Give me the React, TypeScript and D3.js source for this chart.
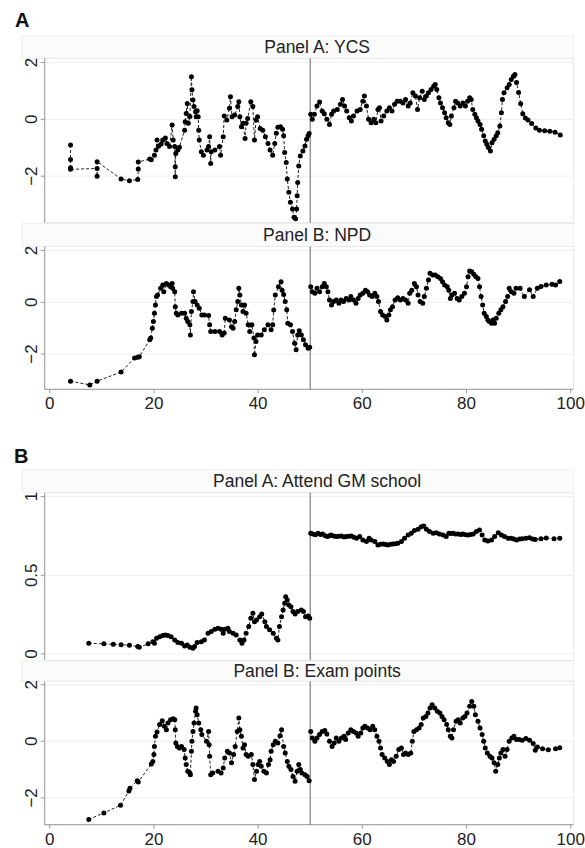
import React from "react"
import * as d3 from "d3"

// x axis (running variable) and cutoff
const xTicks = [0, 20, 40, 60, 80, 100]
const cutoff = 50

// tick values per panel
const ycsTicks = [-2, 0, 2]
const npdTicks = [-2, 0, 2]
const gmTicks = [0, 0.5, 1]
const examTicks = [-2, 0, 2]

// series: [x, y]
const ycs: [number, number][] = [
  [4.0, -0.9], [4.0, -1.41], [4.0, -1.7], [4.0, -1.76], [9.1, -1.73], [9.1, -2.0], [9.1, -1.49],
  [13.7, -2.1], [15.3, -2.16], [16.9, -2.12], [17.0, -1.75], [17.0, -1.5], [19.2, -1.4], [19.5, -1.42],
  [20.1, -1.26], [20.4, -1.08], [20.6, -0.73], [20.9, -0.95], [21.4, -0.87], [21.7, -0.73], [22.2, -0.66],
  [22.5, -0.85], [23.0, -0.96], [23.5, -0.2], [23.7, -0.73], [24.0, -0.96], [24.1, -2.02], [24.1, -1.67],
  [24.2, -1.2], [24.6, -1.08], [24.9, -0.98], [25.9, -0.38], [26.0, -0.08], [26.2, 0.21], [26.4, 0.56],
  [26.6, -0.14], [26.9, 0.1], [27.2, 1.5], [27.3, 1.04], [27.5, 0.68], [27.7, 0.45], [28.0, 0.27],
  [28.1, 0.09], [28.3, 0.3], [28.5, 0.09], [28.6, -0.38], [28.7, -0.73], [29.1, -1.14], [29.5, -1.26],
  [30.2, -1.08], [30.5, -0.96], [30.7, -0.61], [30.9, -1.55], [31.0, -1.14], [31.7, -1.08], [32.6, -0.96],
  [32.8, -1.26], [33.3, -0.61], [33.5, 0.12], [34.0, -0.02], [34.5, 0.39], [34.7, 0.8], [35.0, 0.09],
  [35.5, 0.15], [36.1, 0.45], [36.3, 0.62], [36.5, 0.09], [36.8, -0.26], [37.1, -0.14], [37.5, -0.67],
  [37.7, -0.14], [38.0, 0.03], [38.6, 0.62], [39.0, 0.45], [39.3, -0.73], [39.6, -0.02], [39.9, 0.09],
  [40.4, -0.32], [40.9, -0.38], [41.4, -0.61], [41.9, -0.85], [42.3, -1.08], [42.8, -1.26], [43.2, -0.85],
  [43.5, -0.49], [43.8, -0.28], [44.3, -0.26], [44.7, -0.35], [44.9, -0.58], [45.1, -1.17], [45.4, -1.52],
  [45.6, -2.1], [45.9, -2.57], [46.2, -2.92], [46.6, -3.16], [46.9, -3.45], [47.2, -3.5], [47.4, -3.16],
  [47.5, -2.69], [47.6, -2.22], [47.8, -1.64], [48.1, -1.29], [48.6, -1.11], [49.0, -0.94], [49.3, -0.7],
  [49.6, -0.58], [49.8, -0.5],
  [50.1, 0.18], [50.4, 0.0], [50.8, 0.18], [51.3, 0.47], [51.8, 0.61], [52.3, 0.29], [52.7, 0.2],
  [53.2, 0.0], [53.7, -0.18], [54.1, 0.18], [54.5, 0.29], [55.2, 0.35], [55.8, 0.53], [56.2, 0.7],
  [56.6, 0.47], [57.0, 0.29], [57.5, 0.06], [57.9, -0.06], [58.3, 0.12], [59.0, 0.29], [59.6, 0.35],
  [60.1, 0.64], [60.4, 0.82], [60.8, 0.47], [61.2, 0.0], [61.7, -0.12], [62.2, 0.0], [62.6, -0.12],
  [63.0, 0.35], [63.3, 0.41], [63.6, -0.06], [64.1, 0.12], [64.7, 0.29], [65.2, 0.41], [65.7, 0.29],
  [66.2, 0.53], [66.7, 0.64], [67.3, 0.64], [67.8, 0.58], [68.3, 0.7], [68.8, 0.47], [69.2, 0.58],
  [69.7, 0.94], [70.2, 0.82], [70.6, 0.35], [71.0, 0.76], [71.5, 0.99], [71.9, 0.7], [72.3, 0.82],
  [72.7, 0.94], [73.2, 1.05], [73.7, 1.17], [74.0, 1.23], [74.3, 1.05], [74.7, 0.76], [75.0, 0.58],
  [75.4, 0.41], [75.8, 0.23], [76.1, 0.06], [76.5, -0.12], [76.8, -0.18], [77.1, 0.12], [77.6, 0.41],
  [77.9, 0.64], [78.3, 0.58], [78.8, 0.47], [79.3, 0.58], [79.8, 0.47], [80.2, 0.64], [80.6, 0.76],
  [80.9, 0.7], [81.2, 0.35], [81.6, 0.18], [81.9, 0.06], [82.2, -0.06], [82.6, -0.18], [82.9, -0.35],
  [83.3, -0.58], [83.6, -0.76], [83.9, -0.88], [84.2, -0.99], [84.6, -1.11], [84.9, -0.82], [85.3, -0.7],
  [85.7, -0.58], [86.0, -0.47], [86.4, -0.23], [86.7, 0.23], [86.9, 0.7], [87.2, 0.94], [87.8, 1.11],
  [88.2, 1.23], [88.6, 1.4], [89.0, 1.52], [89.3, 1.58], [89.6, 1.3], [90.0, 0.95], [90.4, 0.55],
  [90.8, 0.2], [91.3, 0.05], [91.8, -0.02], [92.5, -0.15], [93.3, -0.3], [94.0, -0.38], [95.0, -0.4],
  [96.0, -0.42], [97.0, -0.45], [98.0, -0.55],
]

const npd: [number, number][] = [
  [4.0, -3.05], [7.7, -3.19], [9.1, -3.05], [13.7, -2.69], [16.3, -2.15], [16.9, -2.12], [17.2, -2.1],
  [19.2, -1.45], [19.4, -1.38], [19.7, -1.0], [19.9, -0.74], [20.1, -0.42], [20.3, -0.1], [20.5, 0.22],
  [20.7, 0.28], [21.3, 0.54], [21.7, 0.67], [21.9, 0.41], [22.4, 0.73], [22.8, 0.67], [23.2, 0.6],
  [23.5, 0.73], [23.6, 0.54], [24.0, 0.41], [24.1, -0.17], [24.3, -0.42], [24.6, -0.49], [25.3, -0.42],
  [25.9, -0.42], [26.2, -0.62], [26.5, -0.74], [26.9, -0.87], [27.0, -1.26], [27.2, -0.36], [27.5, 0.03],
  [27.6, 0.41], [27.9, 0.03], [28.3, -0.1], [28.7, -0.23], [29.2, -0.49], [29.7, -0.49], [30.5, -0.51],
  [30.7, -0.87], [30.9, -1.13], [31.7, -1.13], [32.6, -1.13], [33.1, -1.26], [33.5, -1.19], [33.7, -0.62],
  [34.5, -0.68], [34.9, -0.94], [35.2, -1.0], [35.5, -0.74], [35.8, -0.29], [36.1, 0.03], [36.3, 0.54],
  [36.5, 0.28], [36.8, -0.1], [37.1, -0.36], [37.4, -0.1], [37.7, -0.42], [38.1, -0.87], [38.4, -1.13],
  [38.8, -0.87], [39.2, -1.38], [39.3, -2.03], [39.6, -1.51], [39.9, -1.26], [40.6, -1.26], [41.2, -1.06],
  [41.9, -0.87], [42.5, -1.06], [42.8, -0.87], [43.0, -0.3], [43.3, 0.28], [43.9, 0.6], [44.4, 0.79],
  [44.6, 0.47], [44.9, 0.3], [45.2, 0.03], [45.5, -0.29], [45.7, -0.81], [46.2, -0.87], [46.6, -1.13],
  [47.0, -1.58], [47.3, -1.83], [47.6, -1.26], [47.9, -1.1], [48.3, -1.26], [48.7, -1.45], [49.1, -1.64],
  [49.6, -1.77], [49.9, -1.74],
  [50.1, 0.6], [50.4, 0.41], [50.9, 0.35], [51.3, 0.54], [51.8, 0.41], [52.3, 0.6], [52.7, 0.73],
  [53.1, 0.6], [53.4, 0.41], [53.7, 0.09], [54.1, -0.1], [54.5, 0.03], [55.0, 0.09], [55.5, -0.04],
  [55.9, 0.09], [56.4, 0.03], [56.9, 0.15], [57.4, 0.09], [57.8, 0.22], [58.3, 0.09], [58.8, -0.04],
  [59.2, 0.15], [59.6, 0.28], [60.1, 0.35], [60.6, 0.47], [61.0, 0.41], [61.4, 0.28], [61.9, 0.22],
  [62.4, 0.35], [62.8, 0.22], [63.1, 0.03], [63.5, -0.36], [63.9, -0.49], [64.4, -0.55], [64.7, -0.68],
  [65.1, -0.49], [65.4, -0.29], [65.8, -0.17], [66.3, 0.09], [66.8, 0.18], [67.3, 0.09], [67.8, 0.15],
  [68.3, 0.09], [68.8, -0.04], [69.1, 0.35], [69.5, 0.47], [70.0, 0.73], [70.4, 0.6], [70.7, 0.28],
  [71.1, 0.03], [71.6, -0.04], [71.9, 0.22], [72.3, 0.54], [72.7, 0.86], [73.0, 1.12], [73.5, 1.05],
  [74.0, 1.05], [74.5, 0.99], [75.0, 0.92], [75.4, 0.79], [75.8, 0.67], [76.3, 0.6], [76.6, 0.47],
  [76.9, 0.15], [77.2, 0.28], [77.7, 0.35], [78.2, 0.15], [78.6, 0.09], [79.1, 0.22], [79.6, 0.35],
  [80.0, 0.6], [80.3, 0.99], [80.6, 1.21], [81.0, 1.18], [81.4, 1.08], [81.8, 0.99], [82.2, 0.92],
  [82.5, 0.6], [82.8, 0.22], [83.1, -0.1], [83.4, -0.42], [83.8, -0.55], [84.1, -0.68], [84.4, -0.74],
  [84.8, -0.81], [85.1, -0.68], [85.4, -0.81], [85.7, -0.62], [86.2, -0.42], [86.6, -0.29], [87.0, -0.17],
  [87.5, 0.03], [87.9, 0.22], [88.2, 0.54], [88.6, 0.41], [89.1, 0.35], [89.5, 0.54], [90.3, 0.54],
  [91.1, 0.22], [92.1, 0.48], [92.8, 0.22], [93.6, 0.54], [94.3, 0.61], [95.3, 0.67], [96.4, 0.7],
  [97.1, 0.67], [97.9, 0.8],
]

const gm: [number, number][] = [
  [7.5, 0.068], [10.4, 0.064], [12.2, 0.061], [13.7, 0.059], [15.3, 0.055], [16.9, 0.047], [17.2, 0.042],
  [18.9, 0.064], [19.8, 0.078], [20.1, 0.068], [20.5, 0.1], [21.1, 0.11], [21.7, 0.117], [22.2, 0.12],
  [22.7, 0.117], [23.3, 0.11], [24.0, 0.089], [24.6, 0.072], [25.3, 0.068], [25.9, 0.051], [26.4, 0.057],
  [26.9, 0.042], [27.5, 0.036], [27.8, 0.047], [28.3, 0.072], [29.1, 0.078], [29.7, 0.089], [30.4, 0.131],
  [31.0, 0.142], [31.7, 0.157], [32.3, 0.163], [32.9, 0.157], [33.3, 0.131], [33.6, 0.157], [34.2, 0.163],
  [34.5, 0.142], [35.2, 0.131], [35.8, 0.121], [36.5, 0.089], [36.9, 0.068], [37.3, 0.089], [37.7, 0.131],
  [38.2, 0.174], [38.6, 0.227], [39.0, 0.258], [39.3, 0.205], [39.7, 0.215], [40.3, 0.237], [40.7, 0.254],
  [41.3, 0.205], [41.6, 0.174], [42.2, 0.153], [42.9, 0.131], [43.5, 0.1], [43.8, 0.089], [44.1, 0.174],
  [44.5, 0.237], [44.8, 0.28], [45.1, 0.322], [45.3, 0.364], [45.6, 0.343], [45.9, 0.311], [46.3, 0.3],
  [46.7, 0.269], [47.1, 0.254], [47.6, 0.269], [48.3, 0.28], [48.7, 0.269], [49.1, 0.237], [49.6, 0.241],
  [49.9, 0.227],
  [50.1, 0.767], [50.5, 0.763], [51.0, 0.758], [51.5, 0.767], [52.0, 0.76], [52.4, 0.763], [52.9, 0.752],
  [53.3, 0.746], [53.7, 0.752], [54.0, 0.756], [54.5, 0.75], [55.0, 0.746], [55.5, 0.748], [56.0, 0.75],
  [56.5, 0.744], [56.9, 0.746], [57.4, 0.748], [57.9, 0.75], [58.4, 0.742], [58.9, 0.735], [59.5, 0.746],
  [60.1, 0.725], [60.8, 0.714], [61.3, 0.735], [61.7, 0.725], [62.4, 0.714], [63.0, 0.693], [63.5, 0.697],
  [64.0, 0.699], [64.5, 0.695], [64.9, 0.693], [65.4, 0.697], [65.9, 0.699], [66.4, 0.701], [66.8, 0.703],
  [67.5, 0.714], [68.1, 0.735], [68.8, 0.756], [69.4, 0.767], [70.0, 0.784], [70.7, 0.792], [71.3, 0.809],
  [71.8, 0.814], [72.3, 0.792], [72.9, 0.778], [73.6, 0.767], [74.2, 0.771], [74.8, 0.763], [75.5, 0.756],
  [76.1, 0.746], [76.6, 0.767], [77.0, 0.765], [77.4, 0.767], [77.9, 0.763], [78.4, 0.763], [78.9, 0.76],
  [79.3, 0.763], [79.8, 0.758], [80.3, 0.756], [80.8, 0.76], [81.3, 0.763], [81.9, 0.778], [82.5, 0.788],
  [83.0, 0.756], [83.5, 0.725], [84.1, 0.718], [84.8, 0.725], [85.4, 0.746], [86.1, 0.771], [86.7, 0.756],
  [87.3, 0.746], [88.0, 0.735], [88.6, 0.735], [89.1, 0.73], [89.6, 0.725], [90.2, 0.73], [90.7, 0.732],
  [91.4, 0.735], [92.1, 0.739], [92.7, 0.73], [93.2, 0.728], [94.3, 0.733], [95.3, 0.737], [96.8, 0.732],
  [97.9, 0.735],
]

const exam: [number, number][] = [
  [7.5, -2.76], [10.4, -2.53], [13.6, -2.26], [15.2, -1.76], [15.4, -1.66], [16.8, -1.39], [17.0, -1.44],
  [19.5, -0.8], [19.8, -0.71], [20.0, -0.47], [20.1, -0.18], [20.3, 0.18], [20.6, 0.33], [21.1, 0.59],
  [21.6, 0.73], [22.0, 0.53], [22.4, 0.41], [22.7, 0.65], [23.2, 0.76], [23.7, 0.8], [24.0, 0.76],
  [24.1, 0.41], [24.2, -0.06], [24.5, -0.18], [24.9, -0.24], [25.3, -0.18], [25.8, -0.29], [26.0, -0.59],
  [26.2, -0.82], [26.5, -1.06], [26.9, -1.12], [27.0, -1.18], [27.2, -0.35], [27.3, 0.0], [27.5, 0.35],
  [27.7, 0.65], [28.0, 1.06], [28.1, 1.18], [28.3, 0.94], [28.6, 0.65], [29.0, 0.41], [29.2, 0.24],
  [30.1, 0.0], [30.5, 0.35], [30.6, -0.12], [30.7, -0.53], [30.9, -1.18], [31.3, -1.12], [32.3, -1.06],
  [32.9, -1.12], [33.3, -0.94], [33.6, -0.59], [34.1, -0.35], [34.5, -0.41], [34.9, -0.76], [35.3, -0.47],
  [35.6, -0.18], [36.0, 0.35], [36.3, 0.82], [36.5, 0.41], [36.8, 0.18], [37.1, -0.24], [37.4, -0.12],
  [37.7, -0.47], [38.1, -0.53], [38.7, -0.47], [39.0, -0.82], [39.3, -1.35], [39.7, -1.06], [40.0, -0.82],
  [40.3, -0.71], [40.6, -0.88], [41.1, -1.06], [41.6, -1.12], [42.0, -0.82], [42.3, -0.65], [42.5, -0.35],
  [42.9, -0.12], [43.3, 0.0], [43.8, -0.06], [44.2, 0.2], [44.5, 0.41], [44.9, -0.18], [45.2, -0.41],
  [45.6, -0.71], [45.9, -0.88], [46.3, -1.0], [46.7, -1.24], [47.1, -1.41], [47.5, -1.06], [47.8, -0.82],
  [48.1, -1.0], [48.4, -1.12], [49.0, -1.18], [49.4, -1.24], [49.8, -1.39],
  [50.1, 0.35], [50.4, 0.12], [50.9, 0.0], [51.3, 0.12], [51.8, 0.24], [52.3, 0.35], [52.8, 0.38],
  [53.2, 0.26], [53.7, 0.0], [54.2, -0.18], [54.6, -0.06], [55.0, 0.12], [55.5, 0.0], [56.0, 0.12],
  [56.5, 0.18], [56.8, 0.06], [57.3, 0.29], [57.8, 0.41], [58.3, 0.35], [58.8, 0.29], [59.2, 0.18],
  [59.7, 0.29], [60.1, 0.47], [60.5, 0.53], [61.0, 0.47], [61.5, 0.41], [62.0, 0.53], [62.4, 0.41],
  [62.8, 0.18], [63.2, 0.0], [63.5, -0.24], [63.8, -0.47], [64.3, -0.59], [64.8, -0.71], [65.2, -0.82],
  [65.6, -0.65], [66.0, -0.71], [66.5, -0.53], [67.0, -0.29], [67.5, -0.24], [67.9, -0.47], [68.3, -0.41],
  [68.8, -0.47], [69.3, -0.41], [69.6, 0.0], [69.9, 0.35], [70.4, 0.41], [70.9, 0.47], [71.3, 0.59],
  [71.7, 0.82], [72.2, 0.88], [72.6, 1.0], [73.0, 1.18], [73.4, 1.29], [73.9, 1.18], [74.4, 1.06],
  [74.9, 1.0], [75.3, 0.88], [75.7, 0.76], [76.2, 0.59], [76.5, 0.41], [76.9, 0.18], [77.2, 0.12],
  [77.5, 0.41], [78.0, 0.71], [78.4, 0.76], [78.8, 0.65], [79.3, 0.82], [79.7, 0.88], [80.1, 1.0],
  [80.6, 1.24], [81.0, 1.41], [81.4, 1.24], [81.7, 0.94], [82.2, 0.71], [82.6, 0.47], [83.0, 0.24],
  [83.3, 0.0], [83.6, -0.24], [84.0, -0.41], [84.5, -0.53], [84.9, -0.59], [85.3, -0.76], [85.6, -1.06],
  [86.0, -0.82], [86.3, -0.59], [86.6, -0.41], [87.0, -0.29], [87.4, -0.53], [87.8, -0.29], [88.2, 0.0],
  [88.7, 0.12], [89.1, 0.18], [89.6, 0.06], [90.1, 0.06], [90.7, 0.04], [91.4, 0.1], [92.1, 0.04],
  [92.8, -0.08], [93.2, -0.32], [93.6, -0.2], [94.6, -0.26], [95.7, -0.3], [97.1, -0.26], [97.9, -0.23],
]

const W = 585
const H = 848
const left = 44.7
const right = 573.5
const frameLeft = 22
const font = "'Liberation Sans', Arial, Helvetica, sans-serif"

const x = d3.scaleLinear().domain([0, 100]).range([49.7, 570.7])

const panels = [
  { title: "Panel A: YCS", data: ycs, ticks: ycsTicks, domain: [-3.66, 2.15], head: 36, top: 58.3, bottom: 223.3 },
  { title: "Panel B: NPD", data: npd, ticks: npdTicks, domain: [-3.36, 2.155], head: 223.3, top: 246.5, bottom: 389.3 },
  { title: "Panel A: Attend GM school", data: gm, ticks: gmTicks, domain: [-0.043, 1.025], head: 470, top: 492.7, bottom: 660.7 },
  { title: "Panel B: Exam points", data: exam, ticks: examTicks, domain: [-2.947, 2.12], head: 660.7, top: 681.3, bottom: 824.7 },
]

const xAxes = [389.3, 824.7]
const fmt = (v: number) => d3.format("")(v).replace("-", "\u2212")

function Panel({ p }: { p: (typeof panels)[number] }) {
  const y = d3.scaleLinear().domain(p.domain).range([p.bottom, p.top])
  const line = d3.line<[number, number]>().x(d => x(d[0])).y(d => y(d[1]))
  const lhs = p.data.filter(d => d[0] < cutoff)
  const rhs = p.data.filter(d => d[0] >= cutoff)
  return (
    <g>
      <rect x={frameLeft} y={p.head} width={right - frameLeft} height={p.top - p.head} fill="#fbfbfb" stroke="#efefef" />
      <text x={(left + right) / 2 + 8} y={(p.head + p.top) / 2 + 6} textAnchor="middle" fontSize={17.5} fill="#222">{p.title}</text>
      <rect x={left} y={p.top} width={right - left} height={p.bottom - p.top} fill="#fff" stroke="#e8e8e8" />
      {p.ticks.map(t => (
        <g key={t}>
          <line x1={left} x2={right} y1={y(t)} y2={y(t)} stroke="#eeeeee" />
          <line x1={left - 4} x2={left} y1={y(t)} y2={y(t)} stroke="#999" />
          <text transform={`translate(${left - 8},${y(t)}) rotate(-90)`} textAnchor="middle" fontSize={17} fill="#222">{fmt(t)}</text>
        </g>
      ))}
      <line x1={left} x2={left} y1={p.top} y2={p.bottom} stroke="#999" />
      <line x1={left} x2={right} y1={p.bottom} y2={p.bottom} stroke="#999" />
      <line x1={x(cutoff)} x2={x(cutoff)} y1={p.top} y2={p.bottom} stroke="#666" />
      {[lhs, rhs].map((s, i) => (
        <path key={i} d={line(s) ?? ""} fill="none" stroke="#222" strokeWidth={1} strokeDasharray="3,2" />
      ))}
      {p.data.map((d, i) => (
        <circle key={i} cx={x(d[0])} cy={y(d[1])} r={2.5} fill="#000" />
      ))}
    </g>
  )
}

export default function App() {
  return (
    <svg width={W} height={H} style={{ position: "absolute", left: 0, top: 0, background: "#fff" }} fontFamily={font}>
      <text x={15} y={27} fontSize={20} fontWeight="bold" fill="#111">A</text>
      <text x={14} y={463} fontSize={20} fontWeight="bold" fill="#111">B</text>
      {panels.map(p => <Panel key={p.title} p={p} />)}
      {xAxes.map(ax => (
        <g key={ax}>
          {xTicks.map(t => (
            <g key={t}>
              <line x1={x(t)} x2={x(t)} y1={ax} y2={ax + 4} stroke="#999" />
              <text x={x(t)} y={ax + 20} textAnchor="middle" fontSize={17} fill="#222">{t}</text>
            </g>
          ))}
        </g>
      ))}
    </svg>
  )
}
